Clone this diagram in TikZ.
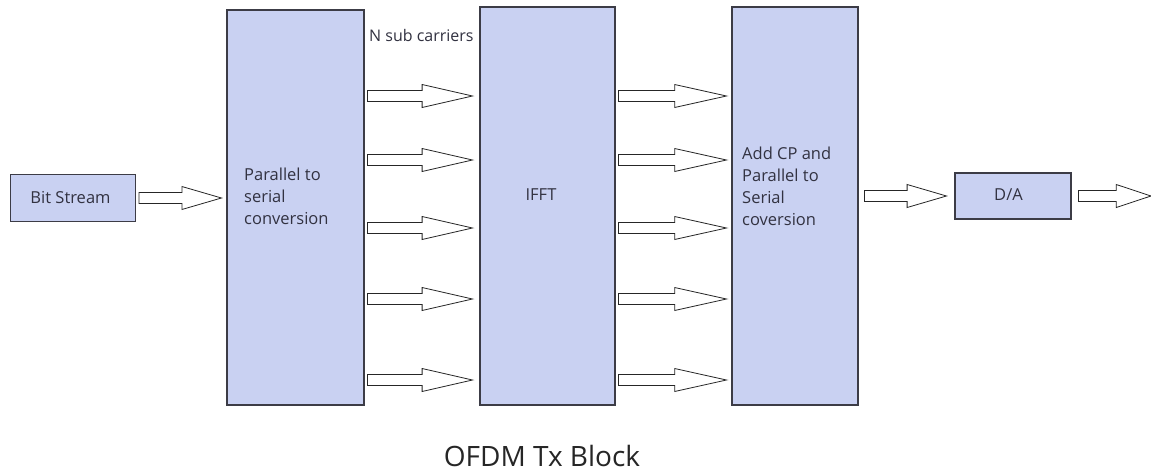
\documentclass[tikz,border=0pt]{standalone}
\usepackage{fontspec}
\setmainfont{Open Sans}
\usetikzlibrary{calc}
\definecolor{boxfill}{RGB}{201,209,242}
\definecolor{boxline}{RGB}{60,60,70}
\definecolor{txt}{RGB}{50,50,65}
\newcommand\myBarrow[2]{%
  \draw[barrowsty] let \p1=(#1), \p2=(#2), \n1={\x1+0.52*(\x2-\x1)} in
    (\x1,\y1+5.5pt) -- (\n1,\y1+5.5pt) -- (\n1,\y1+11.5pt) -- (\x2,\y1)
    -- (\n1,\y1-11.5pt) -- (\n1,\y1-5.5pt) -- (\x1,\y1-5.5pt) -- cycle;}
\begin{document}
\begin{tikzpicture}[x=1pt,y=-1pt,
  blk/.style={draw=boxline,fill=boxfill,line width=1.1pt,inner sep=0pt},
  lbl/.style={text=txt,font=\fontsize{16.5}{22}\selectfont,align=left,inner sep=0pt},
  barrowsty/.style={draw=black!85,fill=white,line width=0.8pt,line join=miter}]
\useasboundingbox[fill=white] (0,0) rectangle (1151,472);
% blocks
\node[blk,minimum width=125pt,minimum height=47pt] (bs) at (73,198) {};
\node[blk,minimum width=137pt,minimum height=395pt] (p2s) at (295.5,207.5) {};
\node[blk,minimum width=135pt,minimum height=398pt] (ifft) at (547.5,206) {};
\node[blk,minimum width=126pt,minimum height=398pt] (cp) at (795,206) {};
\node[blk,minimum width=116pt,minimum height=46pt] (da) at (1013,196) {};
% labels
\node[lbl,anchor=base] (tbs) at (70.5,203) {Bit Stream};
\node[lbl,anchor=north west] (tp2s) at (244,168) {Parallel to\\serial\\conversion};
\node[lbl,anchor=base] (tifft) at (541,200.5) {IFFT};
\node[lbl,anchor=north west] (tcp) at (742,147) {Add CP and\\Parallel to\\Serial\\coversion};
\node[lbl,anchor=base] (tda) at (1008.5,200) {D/A};
\node[lbl,font=\fontsize{16}{20}\selectfont,anchor=base west] (nsub) at (369,41) {N sub carriers};
\node[text=black!85,font=\fontsize{28}{34}\selectfont,inner sep=0pt,anchor=base] (title) at (542,466) {OFDM Tx Block};
% arrow end points
\coordinate (bsS) at ($(bs.east)+(3,0)$);
\coordinate (bsT) at ($(p2s.west |- bs.east)+(-5,0)$);
\coordinate (cpS) at ($(cp.east |- da.west)+(6,0)$);
\coordinate (cpT) at ($(da.west)+(-8,0)$);
\coordinate (daS) at ($(da.east)+(7,0)$);
\coordinate (daT) at (1151,196);
\myBarrow{bsS}{bsT}
\myBarrow{cpS}{cpT}
\myBarrow{daS}{daT}
\foreach \y [count=\i] in {96,160,228,299,380}{
  \coordinate (y\i) at (0,\y);
  \coordinate (aS\i) at ($(p2s.east |- y\i)+(3,0)$);
  \coordinate (aT\i) at ($(ifft.west |- y\i)+(-7,0)$);
  \coordinate (bS\i) at ($(ifft.east |- y\i)+(3,0)$);
  \coordinate (bT\i) at ($(cp.west |- y\i)+(-5,0)$);
  \myBarrow{aS\i}{aT\i}
  \myBarrow{bS\i}{bT\i}
}
\end{tikzpicture}
\end{document}
